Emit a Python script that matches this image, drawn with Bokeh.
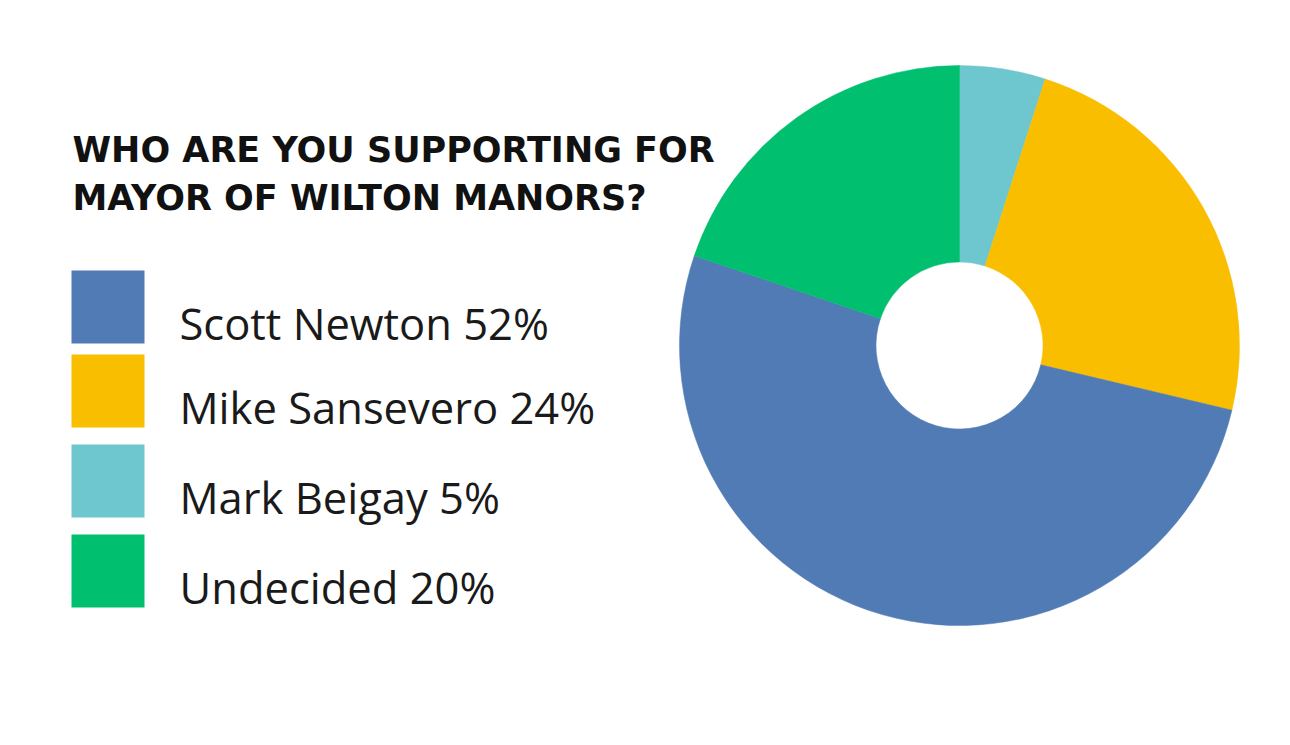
import math
from bokeh.plotting import figure
from bokeh.models import Range1d, ColumnDataSource
from bokeh.core.properties import value
from bokeh.embed import file_html
from bokeh.resources import INLINE

# ---- data ----
title_lines = ["WHO ARE YOU SUPPORTING FOR", "MAYOR OF WILTON MANORS?"]
legend_names = ["Scott Newton", "Mike Sansevero", "Mark Beigay", "Undecided"]
legend_values = [52, 24, 5, 20]
legend_colors = ["#507BB5", "#F9BE00", "#6EC7CE", "#00BF6F"]
# order of slices clockwise from 12 o'clock
slice_order = ["Mark Beigay", "Mike Sansevero", "Scott Newton", "Undecided"]

W, H = 1274, 729
p = figure(width=W, height=H, output_backend="svg", toolbar_location=None,
           x_range=Range1d(0, W), y_range=Range1d(745 - H, 745),
           min_border=0, outline_line_color=None, background_fill_color="white",
           border_fill_color="white")
p.axis.visible = False
p.grid.visible = False

def Y(y):  # reference pixel row -> data y
    return 745 - y

# ---- donut ----
total = sum(legend_values)
lookup = dict(zip(legend_names, zip(legend_values, legend_colors)))
starts, ends, cols = [], [], []
cum = 0.0
for name in slice_order:
    v, c = lookup[name]
    a0 = math.pi / 2 - 2 * math.pi * cum / total
    cum += v
    a1 = math.pi / 2 - 2 * math.pi * cum / total
    starts.append(a0); ends.append(a1); cols.append(c)
src = ColumnDataSource(dict(start=starts, end=ends, color=cols))
p.annular_wedge(x=959, y=Y(345), inner_radius=83.5, outer_radius=280,
                start_angle="start", end_angle="end", direction="clock",
                fill_color="color", line_color="color", line_width=0.5, source=src)

# ---- title ----
p.text(x=[72, 72], y=[Y(149.5), Y(197.5)], text=title_lines,
       text_font=value("DejaVu Sans"), text_font_style="bold",
       text_font_size="35px", text_color="#111111",
       text_align="left", text_baseline="alphabetic")

# ---- legend ----
tops = [270, 354, 444, 534]
sq = 73
p.rect(x=[71 + sq / 2] * 4, y=[Y(t + sq / 2) for t in tops], width=sq, height=sq,
       fill_color=legend_colors, line_color=None)
labels = [f"{n} {v}%" for n, v in zip(legend_names, legend_values)]
p.text(x=[179] * 4, y=[Y(t + 52.5) for t in tops], text=labels,
       text_font=value("Open Sans"), text_font_size="43.5px", text_color="#1a1a1a",
       text_align="left", text_baseline="alphabetic")

open("out.html", "w").write(file_html(p, INLINE))
